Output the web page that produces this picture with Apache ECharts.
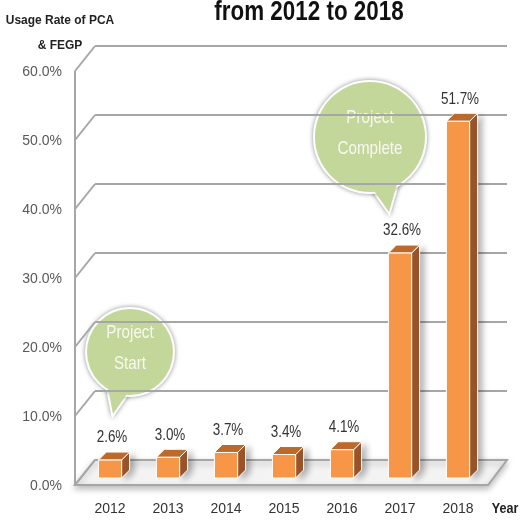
<!DOCTYPE html>
<html>
<head>
<meta charset="utf-8">
<script src="https://cdn.jsdelivr.net/npm/echarts@6/dist/echarts.min.js"></script>
<style>
    html, body { margin: 0; padding: 0; background: #fff; }
    #chart { width: 521px; height: 524px; }
</style>
</head>
<body>
<div id="chart"></div>
<script>
// chart data
const years = ['2012', '2013', '2014', '2015', '2016', '2017', '2018'];
const usage = [2.6, 3.0, 3.7, 3.4, 4.1, 32.6, 51.7];
const yTicks = [0, 10, 20, 30, 40, 50, 60];

const FONT = '"Liberation Sans", sans-serif';
const NARROW = 0.84;  // squeeze text a bit, no narrow font installed
const DEPTH_X = 20;   // left wall depth
const DEPTH_Y = 25;
const BAR_D = 8;      // bar depth

const chart = echarts.init(document.getElementById('chart'));

// back wall + floor + left wall
function renderFrame(params, api) {
    const v = api.value(1);
    const back = api.coord([0, v]);
    const backR = api.coord([1, v]);
    const front = [back[0] - DEPTH_X, back[1] + DEPTH_Y];
    const lineStyle = {stroke: '#a6a6a6', lineWidth: 2};
    const children = [];
    if (v === 0) {
        children.push({
            type: 'polygon',
            shape: {points: [back, backR, [backR[0] - 19, backR[1] + DEPTH_Y], front]},
            style: {
                fill: '#f3f3f3', stroke: '#a6a6a6', lineWidth: 2,
                shadowBlur: 6, shadowColor: 'rgba(0,0,0,0.25)', shadowOffsetY: 3
            }
        });
    }
    children.push({
        type: 'line',
        shape: {x1: front[0], y1: front[1], x2: back[0], y2: back[1]},
        style: lineStyle
    });
    if (v === yTicks[yTicks.length - 1]) {
        const base = api.coord([0, 0]);
        children.push({
            type: 'line',
            shape: {x1: front[0], y1: front[1], x2: base[0] - DEPTH_X, y2: base[1] + DEPTH_Y},
            style: lineStyle
        });
    }
    return {type: 'group', children: children};
}

// 3d-ish bar
function renderBar(params, api) {
    const i = api.value(0);
    const v = api.value(1);
    const top = api.coord([i, v]);
    const base = api.coord([i, 0]);
    const w = api.size([1, 0])[0] * 0.4;
    const x0 = top[0] - w / 2;
    const x1 = top[0] + w / 2;
    const d = BAR_D;
    return {
        type: 'group',
        children: [{
            type: 'polygon',
            shape: {points: [[x1, top[1]], [x1 + d, top[1] - d], [x1 + d, base[1] - d], [x1, base[1]]]},
            style: {
                fill: '#a0572a', stroke: '#fff', lineWidth: 1,
                shadowBlur: 6, shadowColor: 'rgba(0,0,0,0.3)', shadowOffsetX: 4, shadowOffsetY: 2
            }
        }, {
            type: 'polygon',
            shape: {points: [[x0, top[1]], [x0 + d, top[1] - d], [x1 + d, top[1] - d], [x1, top[1]]]},
            style: {fill: '#bc6a2c', stroke: '#fff', lineWidth: 1}
        }, {
            type: 'rect',
            shape: {x: x0, y: top[1], width: w, height: base[1] - top[1]},
            style: {fill: '#f79646', stroke: '#fff', lineWidth: 1}
        }, {
            type: 'text',
            x: top[0] + 2,
            y: top[1] - 22,
            scaleX: NARROW,
            style: {
                text: v.toFixed(1) + '%',
                fill: '#333', font: '16px ' + FONT,
                align: 'center', verticalAlign: 'middle'
            }
        }]
    };
}

// speech bubble
function bubble(cx, cy, r, tail, text) {
    const edge = {stroke: '#fff', lineWidth: 4, shadowBlur: 5, shadowColor: 'rgba(0,0,0,0.35)'};
    const fill = '#c4d79b';
    return {
        type: 'group',
        children: [
            {type: 'polygon', shape: {points: tail}, style: Object.assign({fill: fill}, edge)},
            {type: 'circle', shape: {cx: cx, cy: cy, r: r}, style: Object.assign({fill: fill}, edge)},
            {type: 'polygon', shape: {points: tail}, style: {fill: fill}},
            {type: 'circle', shape: {cx: cx, cy: cy, r: r}, style: {fill: fill}},
            {
                type: 'text', x: cx, y: cy - 4, scaleX: 0.8,
                style: {
                    text: text, fill: '#f8f8f0', font: '19px ' + FONT,
                    align: 'center', verticalAlign: 'middle', lineHeight: 31
                }
            }
        ]
    };
}

const option = {
    backgroundColor: '#fff',
    animation: false,
    grid: [
        {left: 95, right: 14, top: 46, bottom: 64},     // back wall
        {left: 75, right: 33, top: 72, bottom: 38},     // front labels
        {left: 81, width: 406, top: 64, bottom: 46}     // bars
    ],
    xAxis: [{
        gridIndex: 0, type: 'value', min: 0, max: 1, show: false
    }, {
        gridIndex: 1, type: 'value', min: 0, max: 1, show: false
    }, {
        gridIndex: 2,
        type: 'category',
        data: years,
        axisLine: {show: false},
        axisTick: {show: false},
        axisLabel: {
            color: '#333',
            fontFamily: FONT,
            fontSize: 14,
            margin: 24
        }
    }],
    yAxis: [{
        gridIndex: 0, type: 'value', min: 0, max: 60, interval: 10,
        axisLine: {show: false},
        axisTick: {show: false},
        axisLabel: {show: false},
        splitLine: {
            lineStyle: {color: '#a6a6a6', width: 2}
        }
    }, {
        gridIndex: 1, type: 'value', min: 0, max: 60, interval: 10,
        axisLine: {show: false},
        axisTick: {show: false},
        splitLine: {show: false},
        axisLabel: {
            color: '#595959',
            fontFamily: FONT,
            fontSize: 14,
            margin: 13,
            formatter: function (v) {
                return v.toFixed(1) + '%';
            }
        }
    }, {
        gridIndex: 2, type: 'value', min: 0, max: 60, show: false
    }],
    series: [{
        type: 'custom',
        xAxisIndex: 0,
        yAxisIndex: 0,
        renderItem: renderFrame,
        encode: {x: 0, y: 1},
        data: yTicks.map(function (v) { return [0, v]; }),
        z: 1,
        silent: true
    }, {
        type: 'custom',
        xAxisIndex: 2,
        yAxisIndex: 2,
        renderItem: renderBar,
        encode: {x: 0, y: 1},
        data: usage.map(function (v, i) { return [i, v]; }),
        z: 5
    }],
    graphic: [{
        type: 'text', x: 309, y: 12, scaleX: 0.8,
        style: {
            text: 'from 2012 to 2018', fill: '#111',
            font: 'bold 28px ' + FONT, align: 'center', verticalAlign: 'middle'
        }
    }, {
        type: 'text', x: 60, y: 33, scaleX: 0.92,
        style: {
            text: 'Usage Rate of PCA\n& FEGP', fill: '#222',
            font: 'bold 13px ' + FONT, align: 'center', verticalAlign: 'middle', lineHeight: 25
        }
    }, {
        type: 'text', x: 505, y: 509, scaleX: NARROW,
        style: {
            text: 'Year', fill: '#222',
            font: 'bold 15px ' + FONT, align: 'center', verticalAlign: 'middle'
        }
    },
        bubble(130, 352, 43, [[108, 388], [127, 394], [113, 414]], 'Project\nStart'),
        bubble(370, 137, 55, [[372, 188], [397, 184], [389, 212]], 'Project\nComplete')
    ]
};

chart.setOption(option);

window.onresize = function () {
    chart.resize();
};
</script>
</body>
</html>
